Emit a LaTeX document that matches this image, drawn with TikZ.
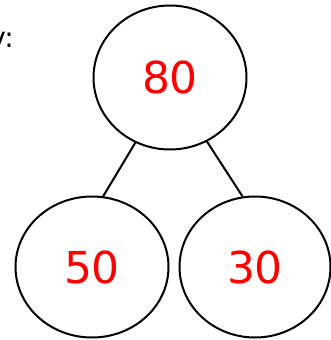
\documentclass[tikz,border=0pt]{standalone}
\usepackage{fontspec}
\setmainfont{DejaVu Sans}
\usetikzlibrary{shapes.geometric}
\begin{document}
\begin{tikzpicture}[x=1pt,y=-1pt,
  bubble/.style={ellipse,draw=black,line width=2pt,inner sep=0pt,
    font=\fontsize{44}{44}\selectfont,text=red},
  link/.style={draw=black,line width=2pt}]
\useasboundingbox (0,0) rectangle (331,340);
\node[anchor=base east,font=\fontsize{28}{28}\selectfont,inner sep=0pt] (lbl) at (14,47) {v:};
\node[bubble,minimum width=153pt,minimum height=144pt] (top) at (170,77.5) {80};
\node[bubble,minimum width=153pt,minimum height=141pt] (left) at (92,267) {50};
\node[bubble,minimum width=151pt,minimum height=141pt] (right) at (255,267) {30};
\draw[link] (top.-118) -- (left.81);
\draw[link] (top.-60.5) -- (right.100);
\end{tikzpicture}
\end{document}
